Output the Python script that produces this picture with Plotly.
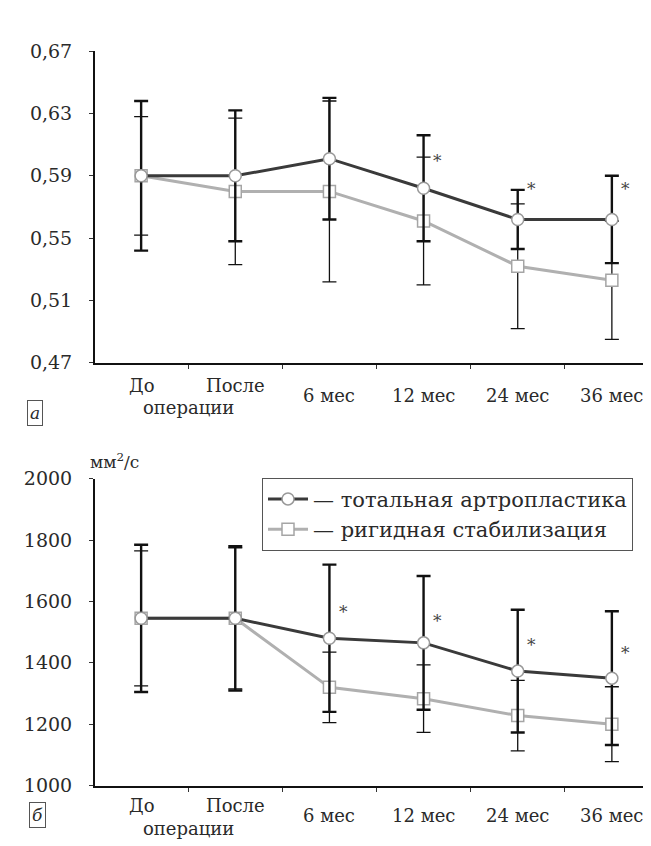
import plotly.graph_objects as go

# ---------------- data ----------------
categories = ["До", "После", "6 мес", "12 мес", "24 мес", "36 мес"]
label_rows = [0, 0, 1, 1, 1, 1]  # 0 -> first line (with "операции" below), 1 -> centred

# panel а
total_a = [0.590, 0.590, 0.601, 0.582, 0.562, 0.562]
total_a_err = [0.048, 0.042, 0.039, 0.034, 0.019, 0.028]
rigid_a = [0.590, 0.580, 0.580, 0.561, 0.532, 0.523]
rigid_a_err = [0.038, 0.047, 0.058, 0.041, 0.040, 0.038]
ticks_a = [0.47, 0.51, 0.55, 0.59, 0.63, 0.67]
ticks_a_text = ["0,47", "0,51", "0,55", "0,59", "0,63", "0,67"]
stars_a_x = ["12 мес", "24 мес", "36 мес"]
stars_a_y = [0.595, 0.577, 0.577]

# panel б
total_b = [1545, 1545, 1480, 1465, 1373, 1350]
total_b_err = [240, 235, 240, 218, 200, 218]
rigid_b = [1545, 1545, 1320, 1283, 1228, 1200]
rigid_b_err = [220, 230, 115, 110, 115, 122]
ticks_b = [1000, 1200, 1400, 1600, 1800, 2000]
ticks_b_text = ["1000", "1200", "1400", "1600", "1800", "2000"]
stars_b_x = ["6 мес", "12 мес", "24 мес", "36 мес"]
stars_b_y = [1555, 1527, 1447, 1423]

legend_names = ["— тотальная артропластика", "— ригидная стабилизация"]

# ---------------- styling ----------------
W, H = 651, 846
FONT = "DejaVu Serif"
TXT = "#2a2a2a"
DARK = "#3a3a3a"
LIGHT = "#b0b0b0"
BAR = "#111111"

def py(px):  # pixel row -> paper fraction
    return 1 - px / H

fig = go.Figure()

def add_panel(xa, ya, total, total_err, rigid, rigid_err, showleg):
    fig.add_trace(go.Scatter(
        x=categories, y=rigid, xaxis=xa, yaxis=ya, mode="lines+markers",
        name=legend_names[1], showlegend=showleg, legendrank=2,
        line=dict(color=LIGHT, width=3),
        marker=dict(symbol="square", size=12, color="white", line=dict(color="#a5a5a5", width=1.5)),
        error_y=dict(type="data", array=rigid_err, symmetric=True, color=BAR, thickness=1.3, width=7),
    ))
    fig.add_trace(go.Scatter(
        x=categories, y=total, xaxis=xa, yaxis=ya, mode="lines+markers",
        name=legend_names[0], showlegend=showleg, legendrank=1,
        line=dict(color=DARK, width=3),
        marker=dict(symbol="circle", size=12, color="white", line=dict(color="#999999", width=1.5)),
        error_y=dict(type="data", array=total_err, symmetric=True, color=BAR, thickness=2.4, width=7),
    ))

add_panel("x", "y", total_a, total_a_err, rigid_a, rigid_a_err, False)
add_panel("x2", "y2", total_b, total_b_err, rigid_b, rigid_b_err, True)

xdom = [87 / W, 650 / W]
xcommon = dict(
    type="category", range=[-0.49, 5.49], showline=True, linewidth=2, linecolor="#111",
    ticks="outside", tickson="boundaries", ticklen=4, tickcolor="#333",
    showticklabels=False, showgrid=False, zeroline=False, domain=xdom,
    categoryorder="array", categoryarray=categories,
)
ycommon = dict(
    showline=True, linewidth=2, linecolor="#111", ticks="outside", ticklen=4,
    tickcolor="#333", showgrid=False, zeroline=False, ticklabelstandoff=13,
    tickfont=dict(family=FONT, size=19, color=TXT),
)

fig.update_layout(
    width=W, height=H,
    margin=dict(l=0, r=0, t=0, b=0),
    paper_bgcolor="white", plot_bgcolor="white",
    font=dict(family=FONT, color=TXT, size=18),
    xaxis=dict(**xcommon, anchor="y"),
    xaxis2=dict(**xcommon, anchor="y2"),
    yaxis=dict(**ycommon, anchor="x", domain=[py(353), py(33)], range=[0.47, 0.67],
               tickmode="array", tickvals=ticks_a, ticktext=ticks_a_text),
    yaxis2=dict(**ycommon, anchor="x2", domain=[py(787), py(472)], range=[1000, 2000],
                tickmode="array", tickvals=ticks_b, ticktext=ticks_b_text),
    legend=dict(
        x=254 / W, y=py(471), xanchor="left", yanchor="top",
        bordercolor="#555", borderwidth=1, bgcolor="white",
        font=dict(family=FONT, size=21, color=TXT),
        itemwidth=40, tracegroupgap=0,
    ),
    showlegend=True,
)

ann = []
# category labels
for xr, first_px, mid_px, second_px in [("x", 376, 387, 399), ("x2", 808, 818, 831)]:
    for cat, row in zip(categories, label_rows):
        ann.append(dict(x=cat, y=py(first_px if row == 0 else mid_px), xref=xr, yref="paper",
                        text=cat, showarrow=False, yanchor="middle",
                        font=dict(family=FONT, size=18, color=TXT)))
    ann.append(dict(x=0.5, y=py(second_px), xref=xr, yref="paper", text="операции",
                    showarrow=False, yanchor="middle", font=dict(family=FONT, size=18, color=TXT)))

# asterisks
for cx, cy in zip(stars_a_x, stars_a_y):
    ann.append(dict(x=cx, y=cy, xref="x", yref="y", text="*", showarrow=False,
                    xshift=14, yshift=7, font=dict(family=FONT, size=17, color="#444")))
for cx, cy in zip(stars_b_x, stars_b_y):
    ann.append(dict(x=cx, y=cy, xref="x2", yref="y2", text="*", showarrow=False,
                    xshift=14, yshift=3, font=dict(family=FONT, size=17, color="#444")))

# unit label
ann.append(dict(x=80 / W, y=py(454), xref="paper", yref="paper", text="мм<sup>2</sup>/с",
                showarrow=False, font=dict(family=FONT, size=17, color=TXT)))
# panel letters
ann.append(dict(x=19 / W, y=py(405), xref="paper", yref="paper", text="<i>а</i>",
                showarrow=False, bordercolor="#555", borderwidth=1, borderpad=2,
                font=dict(family=FONT, size=17, color=TXT)))
ann.append(dict(x=21 / W, y=py(831), xref="paper", yref="paper", text="<i>б</i>",
                showarrow=False, bordercolor="#555", borderwidth=1, borderpad=2,
                font=dict(family=FONT, size=17, color=TXT)))

fig.update_layout(annotations=ann)
fig.write_html("out.html")
